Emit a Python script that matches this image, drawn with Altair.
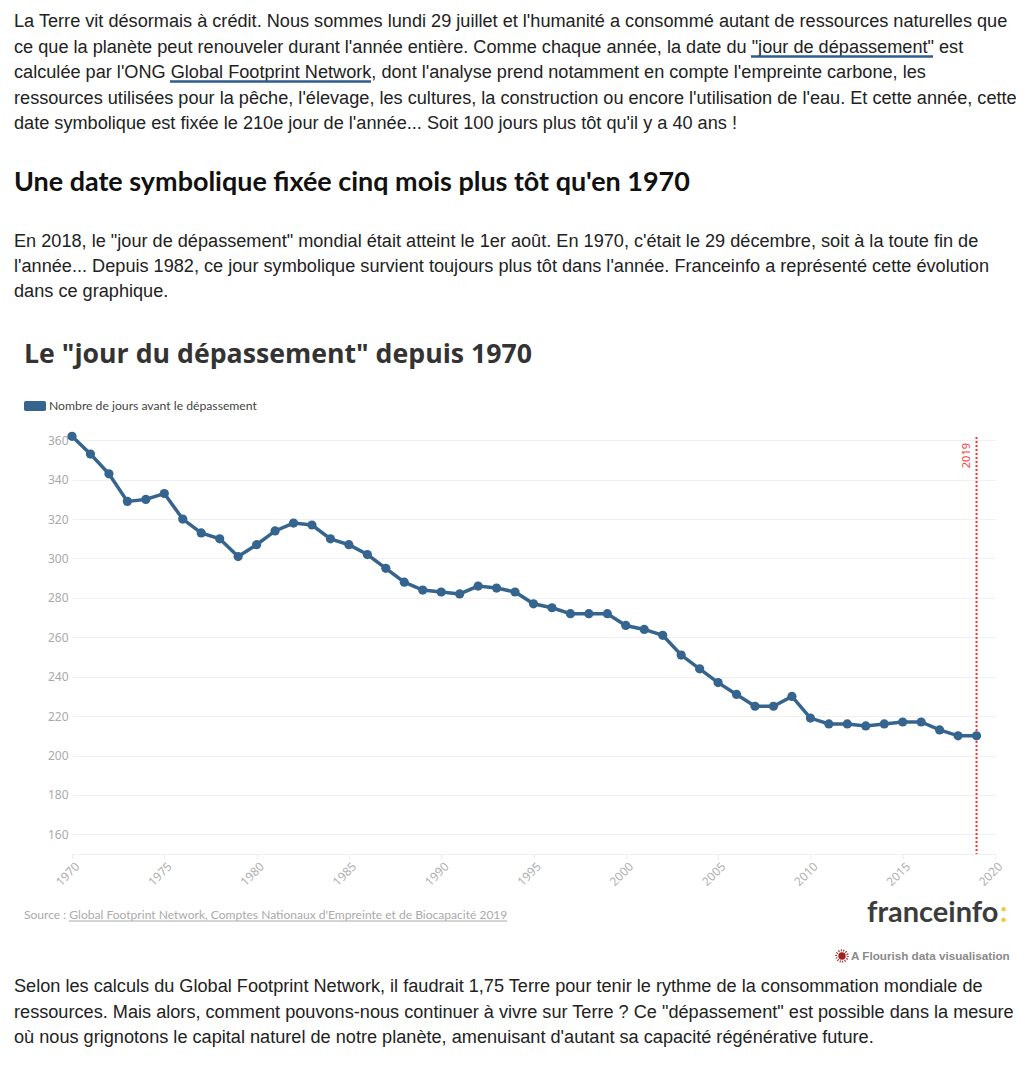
import altair as alt
import pandas as pd

years = list(range(1970, 2020))
days = [362, 353, 343, 329, 330, 333, 320, 313, 310, 301, 307, 314, 318, 317, 310, 307, 302, 295, 288, 284,
        283, 282, 286, 285, 283, 277, 275, 272, 272, 272, 266, 264, 261, 251, 244, 237, 231, 225, 225, 230,
        219, 216, 216, 215, 216, 217, 217, 213, 210, 210]
series_name = "Nombre de jours avant le dépassement"
x_ticks = list(range(1970, 2021, 5))
y_ticks = list(range(160, 361, 20))
marker_year = [2019]

para1 = [
    "La Terre vit désormais à crédit. Nous sommes lundi 29 juillet et l'humanité a consommé autant de ressources naturelles que",
    "ce que la planète peut renouveler durant l'année entière. Comme chaque année, la date du \"jour de dépassement\" est",
    "calculée par l'ONG Global Footprint Network, dont l'analyse prend notamment en compte l'empreinte carbone, les",
    "ressources utilisées pour la pêche, l'élevage, les cultures, la construction ou encore l'utilisation de l'eau. Et cette année, cette",
    "date symbolique est fixée le 210e jour de l'année... Soit 100 jours plus tôt qu'il y a 40 ans !",
]
heading = "Une date symbolique fixée cinq mois plus tôt qu'en 1970"
para2 = [
    "En 2018, le \"jour de dépassement\" mondial était atteint le 1er août. En 1970, c'était le 29 décembre, soit à la toute fin de",
    "l'année... Depuis 1982, ce jour symbolique survient toujours plus tôt dans l'année. Franceinfo a représenté cette évolution",
    "dans ce graphique.",
]
chart_title = "Le \"jour du dépassement\" depuis 1970"
source = "Source : Global Footprint Network, Comptes Nationaux d'Empreinte et de Biocapacité 2019"
para3 = [
    "Selon les calculs du Global Footprint Network, il faudrait 1,75 Terre pour tenir le rythme de la consommation mondiale de",
    "ressources. Mais alors, comment pouvons-nous continuer à vivre sur Terre ? Ce \"dépassement\" est possible dans la mesure",
    "où nous grignotons le capital naturel de notre planète, amenuisant d'autant sa capacité régénérative future.",
]

LEFT, TOP = 72, 437
W, H = 923, 417
BLUE = "#35658f"
one = alt.InlineData(values=[{"k": 1}])


def label(txt, x, y, size=18.15, color="#222222", font="Liberation Sans", weight="normal", **kw):
    return alt.Chart(one).mark_text(text=txt, fontSize=size, color=color, font=font, fontWeight=weight,
                                    align=kw.pop("align", "left"), baseline="middle", **kw).encode(
        x=alt.value(x - LEFT), y=alt.value(y - TOP))


def underline(x1, x2, y, color, width):
    return alt.Chart(one).mark_rule(color=color, strokeWidth=width).encode(
        x=alt.value(x1 - LEFT), x2=alt.value(x2 - LEFT), y=alt.value(y - TOP))


df = pd.DataFrame({"year": years, "days": days, "serie": [series_name] * len(years)})
xs = alt.X("year:Q", scale=alt.Scale(domain=[1970, 2020], nice=False, zero=False),
           axis=alt.Axis(values=x_ticks, format="d", title=None, grid=False, labelAngle=-45, labelAlign="right",
                         labelBaseline="middle", labelColor="#b0b0b0", labelFont="Noto Sans", labelFontSize=12,
                         domainColor="#eeeeee", tickColor="#eeeeee", tickSize=5, labelPadding=5, labelOffset=5,
                         labelFlush=False, labelOverlap=False))
ys = alt.Y("days:Q", scale=alt.Scale(domain=[150, 150 + H / 1.97], nice=False, zero=False),
           axis=alt.Axis(values=y_ticks, title=None, domain=False, ticks=False, gridColor="#f0f0f0",
                         labelColor="#aaaaaa", labelFont="Noto Sans", labelFontSize=12, labelPadding=4))
col = alt.Color("serie:N", scale=alt.Scale(range=[BLUE]),
                legend=alt.Legend(orient="none", legendX=-48, legendY=-42, title=None,
                                  symbolType="M-0.85,-0.45H0.85Q1,-0.45 1,-0.3V0.3Q1,0.45 0.85,0.45H-0.85Q-1,0.45 -1,0.3V-0.3Q-1,-0.45 -0.85,-0.45Z",
                                  symbolSize=484, symbolStrokeWidth=0, labelFont="Lato", labelFontSize=12.2,
                                  labelColor="#444444", labelOffset=3, labelLimit=300, padding=0))

line = alt.Chart(df).mark_line(strokeWidth=3.5).encode(x=xs, y=ys, color=col)
points = alt.Chart(df).mark_point(filled=True, size=85, opacity=1).encode(x=xs, y=ys, color=col)
rule_layer = alt.Chart(pd.DataFrame({"year": marker_year})).mark_rule(color="#f53333", strokeWidth=2, strokeDash=[2, 2]).encode(x="year:Q")
rule_lab = alt.Chart(pd.DataFrame({"year": marker_year})).mark_text(
    text=str(marker_year[0]), color="#f54444", angle=270, fontSize=11, font="Noto Sans", dy=-10, align="right", baseline="middle"
).encode(x="year:Q", y=alt.value(6))

layers = [line, rule_layer, points, rule_lab]
for lines, ys0, pitch in ((para1, 22, 25.5), (para2, 241.5, 25.2), (para3, 987, 25.5)):
    for i, t in enumerate(lines):
        layers.append(label(t, 14, ys0 + i * pitch))
layers += [
    label(heading, 14, 183, size=26.95, color="#111111", font="Lato", weight="bold"),
    label(chart_title, 24, 355, size=26.7, color="#333333", font="Open Sans", weight="bold"),
    label(source, 24, 915, size=12.05, color="#aaaaaa", font="Lato"),
    underline(69, 507, 921, "#aaaaaa", 1),
    underline(751, 933, 56.5, "#2f5d8c", 2.5),
    underline(170, 371, 81.5, "#2f5d8c", 2.5),
    label("franceinfo", 867, 913, size=29, color="#3c3c3c", font="Lato", weight="bold"),
    label(":", 1000, 913, size=29, color="#f5c93c", font="Lato", weight="bold"),
    label("A Flourish data visualisation", 851, 956, size=11.7, color="#8a8a8a", weight="bold"),
    alt.Chart(one).mark_point(filled=True, size=55, color="#a32020", opacity=1).encode(x=alt.value(842 - LEFT), y=alt.value(956 - TOP)),
    alt.Chart(one).mark_point(filled=False, size=130, color="#a32020", strokeDash=[1, 1.5], strokeWidth=2, opacity=1).encode(x=alt.value(842 - LEFT), y=alt.value(956 - TOP)),
]

chart = alt.layer(*layers).resolve_scale(x="shared", y="shared").properties(
    width=W, height=H,
    autosize=alt.AutoSizeParams(type="none"),
    padding={"left": LEFT - 8, "top": TOP - 8, "right": 21, "bottom": 195},
).configure_view(stroke=None)

chart.save("out.html", embed_options={"renderer": "svg", "actions": False})
